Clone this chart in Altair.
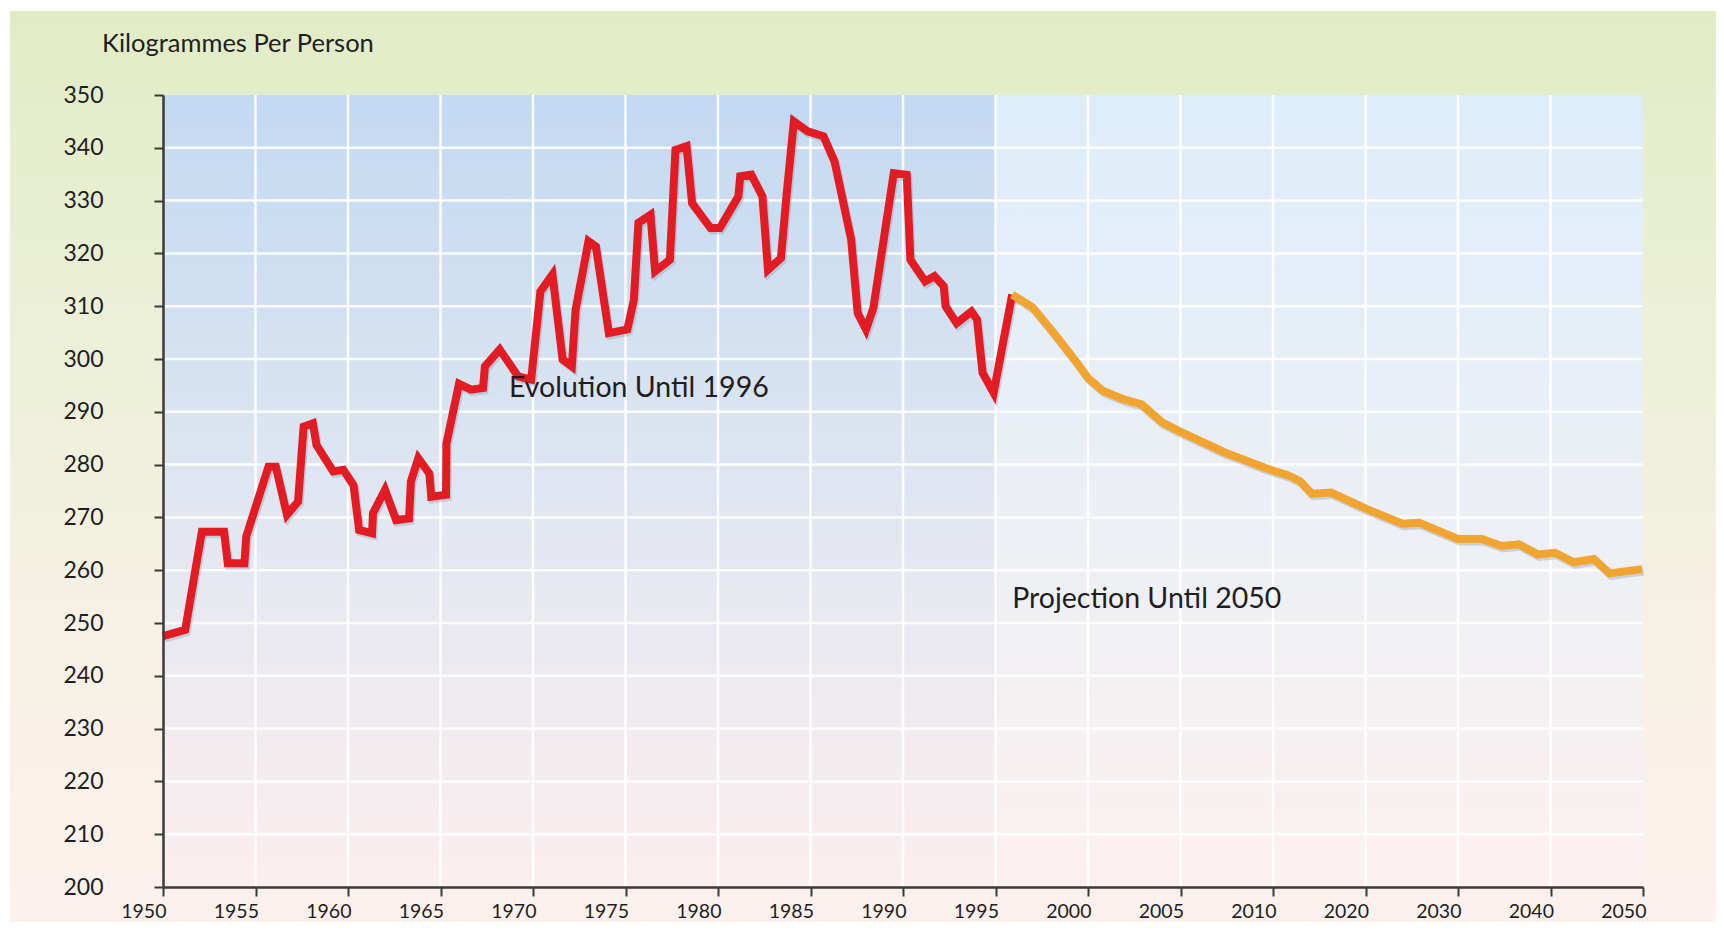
import altair as alt
import pandas as pd

# ---------------- data ----------------
RED_YEARS = [1950.0, 1951.2, 1952.1, 1953.3, 1953.5, 1954.4, 1954.5, 1955.7, 1956.1, 1956.7,
             1957.3, 1957.6, 1958.1, 1958.3, 1959.2, 1959.75, 1960.3, 1960.6, 1961.3, 1961.35,
             1962.0, 1962.6, 1963.3, 1963.4, 1963.8, 1964.4, 1964.5, 1965.3, 1965.32, 1966.0,
             1966.65, 1967.3, 1967.4, 1968.2, 1969.2, 1969.9, 1970.4, 1971.05, 1971.6, 1972.1,
             1972.3, 1973.0, 1973.4, 1974.1, 1975.1, 1975.45, 1975.7, 1976.35, 1976.6, 1977.4,
             1977.7, 1978.3, 1978.6, 1979.6, 1980.1, 1981.1, 1981.2, 1981.8, 1982.4, 1982.7,
             1983.4, 1983.7, 1984.1, 1984.85, 1985.7, 1986.3, 1987.2, 1987.55, 1988.0, 1988.4,
             1989.5, 1990.2, 1990.4, 1991.2, 1991.7, 1992.2, 1992.3, 1992.9, 1993.7, 1994.0,
             1994.3, 1994.9, 1995.9]
RED_VALUES = [247.5, 248.7, 267.3, 267.3, 261.3, 261.3, 266.4, 279.6, 279.6, 270.5,
              273.0, 287.2, 287.8, 283.7, 278.7, 279.0, 276.1, 267.6, 267.0, 270.8,
              275.2, 269.5, 269.8, 276.8, 281.2, 278.3, 273.9, 274.3, 284.0, 295.3,
              294.2, 294.5, 298.6, 301.8, 296.7, 296.1, 312.8, 316.0, 299.9, 298.6,
              309.3, 322.3, 321.3, 304.9, 305.6, 311.2, 325.8, 327.3, 316.6, 318.8,
              339.6, 340.3, 329.5, 324.8, 324.8, 330.8, 334.6, 334.9, 330.8, 316.9,
              319.1, 330.8, 345.0, 343.1, 342.2, 337.4, 322.6, 308.7, 305.6, 309.7,
              335.2, 334.9, 318.8, 314.7, 315.7, 313.8, 310.0, 306.8, 309.0, 307.5,
              297.4, 293.6, 312.2]

ORANGE_YEARS = [1995.9, 1997.0, 1998.2, 1999.4, 2000.0, 2000.8, 2001.9, 2002.9, 2004.0, 2004.9,
                2007.4, 2009.7, 2011.6, 2012.9, 2014.2, 2016.3, 2020.1, 2024.0, 2025.8, 2030.0,
                2032.6, 2034.7, 2036.6, 2038.6, 2040.5, 2042.5, 2044.7, 2046.4, 2049.9]
ORANGE_VALUES = [312.2, 309.8, 304.7, 299.3, 296.4, 294.0, 292.4, 291.4, 288.0, 286.4,
                 282.3, 279.2, 278.0, 276.9, 274.5, 274.7, 271.6, 268.8, 269.0, 265.9,
                 265.9, 264.6, 264.9, 263.0, 263.3, 261.5, 262.1, 259.4, 260.2]

X_TICK_LABELS = ["1950", "1955", "1960", "1965", "1970", "1975", "1980", "1985", "1990",
                 "1995", "2000", "2005", "2010", "2020", "2030", "2040", "2050"]
Y_TICKS = [200, 210, 220, 230, 240, 250, 260, 270, 280, 290, 300, 310, 320, 330, 340, 350]

ANNOT_TEXT = ["Evolution Until 1996", "Projection Until 2050"]
ANNOT_YEAR = [1968.7, 1995.9]
ANNOT_VALUE = [294.6, 254.6]

PERIOD_START = [1950, 1995]
PERIOD_END = [1995, 2050]

Y_TITLE = "Kilogrammes Per Person"

# ---------------- layout ----------------
W, H = 1480, 792
FONT = "Lato"


def pos_expr(f):
    return (f"datum.{f} <= 2010 ? (datum.{f} - 1950) / 5 "
            f": 12 + (datum.{f} - 2010) / 10")


label_arr = "[" + ",".join(f"'{t}'" for t in X_TICK_LABELS) + "]"
x_scale = alt.Scale(domain=[0, len(X_TICK_LABELS) - 1], nice=False, zero=False)
y_scale = alt.Scale(domain=[Y_TICKS[0], Y_TICKS[-1]], nice=False, zero=False)
x_axis = alt.Axis(values=list(range(len(X_TICK_LABELS))),
                  labelExpr=f"{label_arr}[datum.value]", title=None, zindex=2,
                  grid=False, domainColor="#3a3a3a", domainWidth=2.5,
                  tickColor="#3a3a3a", tickWidth=2, tickSize=9,
                  labelFont=FONT, labelColor="#1f1d1e", labelFontSize=19.5,
                  labelPadding=6, labelAlign="right", labelOffset=3,
                  labelBaseline="top")
y_axis = alt.Axis(values=Y_TICKS, title=None, zindex=2, grid=False,
                  domainColor="#3a3a3a", domainWidth=2.5,
                  tickColor="#3a3a3a", tickWidth=2, tickSize=9,
                  labelFont=FONT, labelColor="#1f1d1e", labelFontSize=23,
                  labelPadding=51)


def X(field):
    return alt.X(field, type="quantitative", scale=x_scale, axis=x_axis)


def Y(field):
    return alt.Y(field, type="quantitative", scale=y_scale, axis=y_axis)


def grad(stops):
    return alt.LinearGradient(
        gradient="linear", x1=0, y1=0, x2=0, y2=1,
        stops=[alt.GradientStop(offset=o, color=c) for o, c in stops])


series = pd.concat([
    pd.DataFrame({"year": RED_YEARS, "value": RED_VALUES, "series": "Evolution"}),
    pd.DataFrame({"year": ORANGE_YEARS, "value": ORANGE_VALUES, "series": "Projection"}),
], ignore_index=True)

periods = pd.DataFrame({"start": PERIOD_START, "end": PERIOD_END, "idx": [0, 1]})
xticks = pd.DataFrame({"i": list(range(1, len(X_TICK_LABELS) - 1))})
yticks = pd.DataFrame({"v": Y_TICKS[1:-1]})
annots = pd.DataFrame({"text": ANNOT_TEXT, "year": ANNOT_YEAR, "value": ANNOT_VALUE})
one = pd.DataFrame({"t": [Y_TITLE]})

outer = alt.Chart(one).mark_rect(
    fill=grad([(0, "#e1ecc6"), (0.35, "#ecf0d8"), (0.7, "#f8f1e6"), (1, "#fdf1ee")])
).encode(x=alt.value(-153), x2=alt.value(W + 120), y=alt.value(-84), y2=alt.value(H + 80))

bg_left = alt.Chart(periods).transform_filter("datum.idx == 0").transform_calculate(
    p0=pos_expr("start"), p1=pos_expr("end")
).mark_rect(
    fill=grad([(0, "#c3d9f2"), (0.3, "#d3e1f1"), (0.6, "#e6e8f1"), (1, "#fbeeee")])
).encode(x=X("p0"), x2="p1:Q", y=alt.value(0), y2=alt.value(H))

bg_right = alt.Chart(periods).transform_filter("datum.idx == 1").transform_calculate(
    p0=pos_expr("start"), p1=pos_expr("end")
).mark_rect(
    fill=grad([(0, "#ddedfa"), (0.3, "#e6eef7"), (0.6, "#eef0f4"), (1, "#fcf0ef")])
).encode(x=X("p0"), x2="p1:Q", y=alt.value(0), y2=alt.value(H))

vgrid = alt.Chart(xticks).mark_rule(color="white", strokeWidth=2.5, opacity=0.9).encode(
    x=X("i"))
hgrid = alt.Chart(yticks).mark_rule(color="white", strokeWidth=2.5, opacity=0.9).encode(
    y=Y("v"))

base_line = alt.Chart(series).transform_calculate(pos=pos_expr("year"))

shadow = base_line.mark_line(
    strokeWidth=8, color="#8796aa", opacity=0.35, xOffset=1.5, yOffset=2.5,
    strokeJoin="miter"
).encode(x=X("pos"), y=Y("value"), detail="series:N", order="year:Q")

lines = base_line.mark_line(strokeWidth=8, strokeJoin="miter").encode(
    x=X("pos"), y=Y("value"),
    color=alt.Color("series:N", legend=None,
                    scale=alt.Scale(domain=["Evolution", "Projection"],
                                    range=["#e31b23", "#f2a431"])),
    order="year:Q")

annot = alt.Chart(annots).transform_calculate(pos=pos_expr("year")).mark_text(
    font=FONT, fontSize=28.5, align="left", baseline="middle", color="#1f1d1e"
).encode(x=X("pos"), y=Y("value"), text="text:N")

ytitle = alt.Chart(one).mark_text(
    font=FONT, fontSize=25.5, align="left", baseline="alphabetic", color="#1f1d1e"
).encode(x=alt.value(-61), y=alt.value(-43), text="t:N")

chart = alt.layer(
    outer, bg_left, bg_right, vgrid, hgrid, shadow, lines, annot, ytitle
).properties(
    width=W, height=H,
    autosize=alt.AutoSizeParams(type="none"),
    padding={"left": 155, "top": 87, "right": 73, "bottom": 35},
    background="white",
).configure_view(strokeWidth=0)

chart.save("out.html", embed_options={"renderer": "svg", "actions": False})
